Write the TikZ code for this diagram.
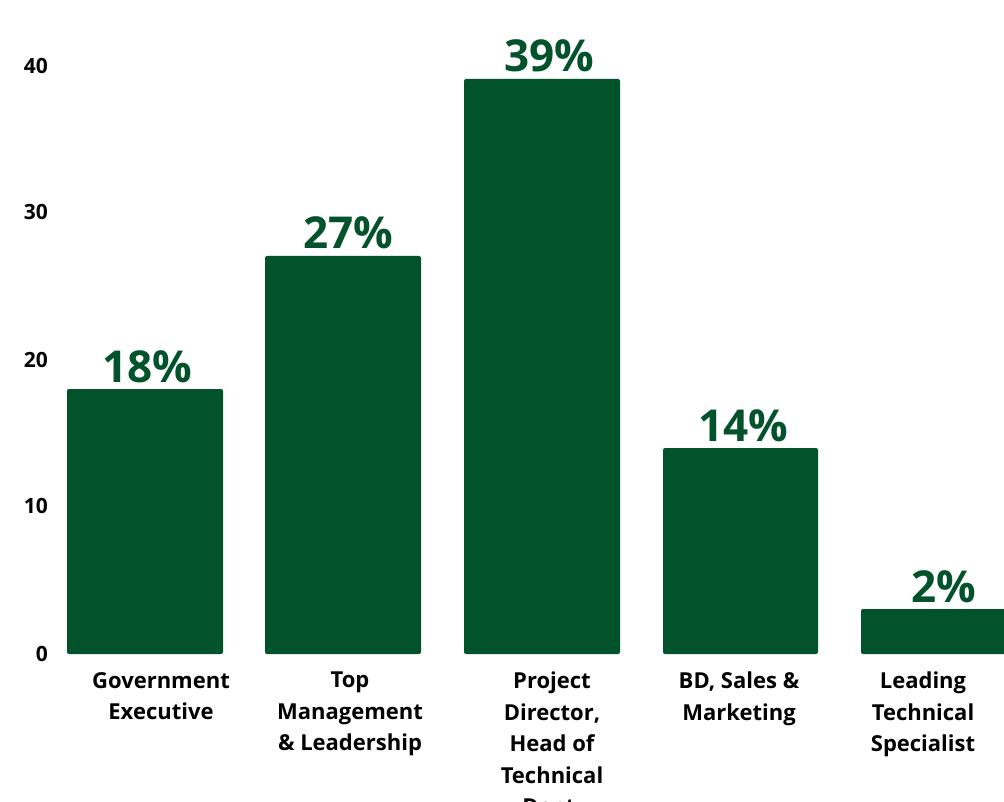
\documentclass[tikz,border=0pt]{standalone}
\usepackage{fontspec}
\setmainfont{Open Sans}
\definecolor{bargreen}{RGB}{2,83,43}
\tikzset{
  bar/.style={fill=bargreen,draw=none,rounded corners=2pt},
  pct/.style={anchor=base,inner sep=0pt,text=bargreen,font=\bfseries\fontsize{44}{50}\selectfont},
  cat/.style={anchor=north,inner sep=0pt,align=center,font=\bfseries\fontsize{22}{31.5}\selectfont},
  tick/.style={anchor=east,inner sep=0pt,font=\bfseries\fontsize{21}{26}\selectfont}
}
\begin{document}
\begin{tikzpicture}[x=1pt,y=-1pt]
  \useasboundingbox (0,0) rectangle (1004,802);
  \clip (0,0) rectangle (1004,802);
  % axis ticks
  \node[tick] (t40) at (48,66)  {40};
  \node[tick] (t30) at (48,212) {30};
  \node[tick] (t20) at (48,360) {20};
  \node[tick] (t10) at (48,506) {10};
  \node[tick] (t0)  at (48,654) {0};
  % bars, bottom at 654
  \fill[bar] (67,654)  rectangle (223,389);
  \fill[bar] (265,654) rectangle (421,256);
  \fill[bar] (464,654) rectangle (620,79);
  \fill[bar] (663,654) rectangle (818,448);
  \fill[bar] (861,654) rectangle (1010,609);
  % shares on top of the bars
  \node[pct] (p1) at (147,382) {18\%};
  \node[pct] (p2) at (348,249) {27\%};
  \node[pct] (p3) at (549,72)  {39\%};
  \node[pct] (p4) at (743,441) {14\%};
  \node[pct] (p5) at (944,602) {2\%};
  % categories
  \node[cat] (c1) at (161,672) {Government\\Executive};
  \node[cat] (c2) at (350,672) {Top\\Management\\\& Leadership};
  \node[cat] (c3) at (552,672) {Project\\Director,\\Head of\\Technical\\Dept.};
  \node[cat] (c4) at (739,672) {BD, Sales \&\\Marketing};
  \node[cat] (c5) at (923,672) {Leading\\Technical\\Specialist};
\end{tikzpicture}
\end{document}
